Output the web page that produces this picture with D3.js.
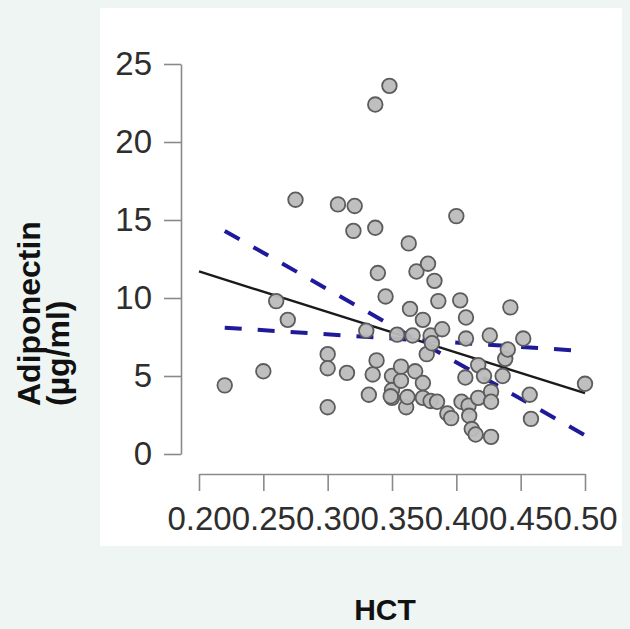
<!DOCTYPE html>
<html>
<head>
<meta charset="utf-8">
<script src="https://cdn.jsdelivr.net/npm/d3@7"></script>
<style>
  html, body { margin: 0; padding: 0; background: #eef5f2; }
  svg { display: block; font-family: "Liberation Sans", Arial, sans-serif; }
</style>
</head>
<body>
<div id="app"></div>
<script>
const WIDTH = 630;
const HEIGHT = 629;

// HCT (x) and adiponectin (y)
const hct = [
  0.220, 0.250, 0.260, 0.269, 0.275, 0.300, 0.300, 0.300, 0.308, 0.315,
  0.321, 0.320, 0.330, 0.332, 0.335, 0.337, 0.337, 0.338, 0.339, 0.345,
  0.348, 0.350, 0.350, 0.350, 0.349, 0.354, 0.357, 0.357, 0.361, 0.362,
  0.364, 0.363, 0.366, 0.368, 0.369, 0.374, 0.374, 0.374, 0.378, 0.377,
  0.380, 0.381, 0.383, 0.386, 0.389, 0.380, 0.385, 0.393, 0.396, 0.400,
  0.403, 0.4075, 0.4075, 0.407, 0.404, 0.4095, 0.410, 0.412, 0.415, 0.417,
  0.417, 0.4215, 0.426, 0.427, 0.427, 0.427, 0.436, 0.438, 0.440, 0.442,
  0.452, 0.457, 0.458, 0.500
];
const adiponectin = [
  4.4, 5.3, 9.8, 8.6, 16.3, 6.4, 5.5, 3.0, 16.0, 5.2,
  15.9, 14.3, 7.9, 3.8, 5.1, 22.4, 14.5, 6.0, 11.6, 10.1,
  23.6, 5.0, 4.1, 3.6, 3.7, 7.65, 4.7, 5.6, 3.0, 3.65,
  9.3, 13.5, 7.6, 5.3, 11.7, 8.6, 4.55, 3.6, 12.2, 6.4,
  7.6, 7.1, 11.1, 9.8, 8.0, 3.4, 3.35, 2.6, 2.3, 15.25,
  9.85, 8.75, 7.4, 4.9, 3.35, 3.1, 2.45, 1.6, 1.25, 5.7,
  3.6, 5.0, 7.6, 4.0, 3.35, 1.1, 5.0, 6.1, 6.7, 9.4,
  7.4, 3.8, 2.25, 4.5
];

// regression line and the two dashed bounds
const fitX = [0.20, 0.50];
const fitY = [11.7, 3.9];
const steepX = [0.22, 0.50];
const steepY = [14.3, 1.2];
const flatX = [0.22, 0.50];
const flatY = [8.1, 6.6];

const xTicks = [0.20, 0.25, 0.30, 0.35, 0.40, 0.45, 0.50];
const yTicks = [0, 5, 10, 15, 20, 25];

const svg = d3
  .select("#app")
  .append("svg")
  .attr("width", WIDTH)
  .attr("height", HEIGHT);

// white plot panel
svg
  .append("rect")
  .attr("x", 100)
  .attr("y", 8)
  .attr("width", 522)
  .attr("height", 538)
  .attr("fill", "#ffffff");

const x = d3.scaleLinear().domain([0.20, 0.50]).range([199, 585]);
const y = d3.scaleLinear().domain([0, 25]).range([454, 64]);

// Axes
const xAxis = svg
  .append("g")
  .attr("transform", "translate(0, 474)")
  .call(
    d3.axisBottom(x)
      .tickValues(xTicks)
      .tickFormat(d3.format(".2f"))
      .tickSize(17)
      .tickSizeOuter(0)
      .tickPadding(16)
  );
const yAxis = svg
  .append("g")
  .attr("transform", "translate(181, 0)")
  .call(
    d3.axisLeft(y)
      .tickValues(yTicks)
      .tickSize(17)
      .tickSizeOuter(0)
      .tickPadding(12)
  );

[xAxis, yAxis].forEach((ax) => {
  ax.attr("font-family", null).attr("font-size", null);
  ax.selectAll("path, line").attr("stroke", "#8a8a8a").attr("stroke-width", 1.6);
  ax.selectAll("text")
    .attr("fill", "#2e2e2e")
    .style("font-size", "33px");
});

// line helper
const line = d3
  .line()
  .x((d) => x(d[0]))
  .y((d) => y(d[1]));

svg
  .append("path")
  .datum(d3.zip(fitX, fitY))
  .attr("d", line)
  .attr("fill", "none")
  .attr("stroke", "#1a1a1a")
  .attr("stroke-width", 2.4);

[d3.zip(steepX, steepY), d3.zip(flatX, flatY)].forEach((pts) => {
  svg
    .append("path")
    .datum(pts)
    .attr("d", line)
    .attr("fill", "none")
    .attr("stroke", "#1f1a99")
    .attr("stroke-width", 4)
    .attr("stroke-dasharray", "17 16");
});

// points
svg
  .append("g")
  .selectAll("circle")
  .data(d3.zip(hct, adiponectin))
  .join("circle")
  .attr("cx", (d) => x(d[0]))
  .attr("cy", (d) => y(d[1]))
  .attr("r", 7.3)
  .attr("fill", "#bcbcbc")
  .attr("fill-opacity", 0.95)
  .attr("stroke", "#5c5c5c")
  .attr("stroke-width", 1.8);

// axis titles
const yTitle = svg
  .append("g")
  .attr("font-weight", "bold")
  .attr("font-size", "32px")
  .attr("fill", "#111");
yTitle
  .append("text")
  .attr("transform", "translate(40, 406) rotate(-90)")
  .text("Adiponectin");
yTitle
  .append("text")
  .attr("transform", "translate(69, 406) rotate(-90)")
  .text("(µg/ml)");

svg
  .append("text")
  .attr("x", 385)
  .attr("y", 620)
  .attr("text-anchor", "middle")
  .attr("font-weight", "bold")
  .attr("font-size", "30px")
  .attr("fill", "#111")
  .text("HCT");
</script>
</body>
</html>
